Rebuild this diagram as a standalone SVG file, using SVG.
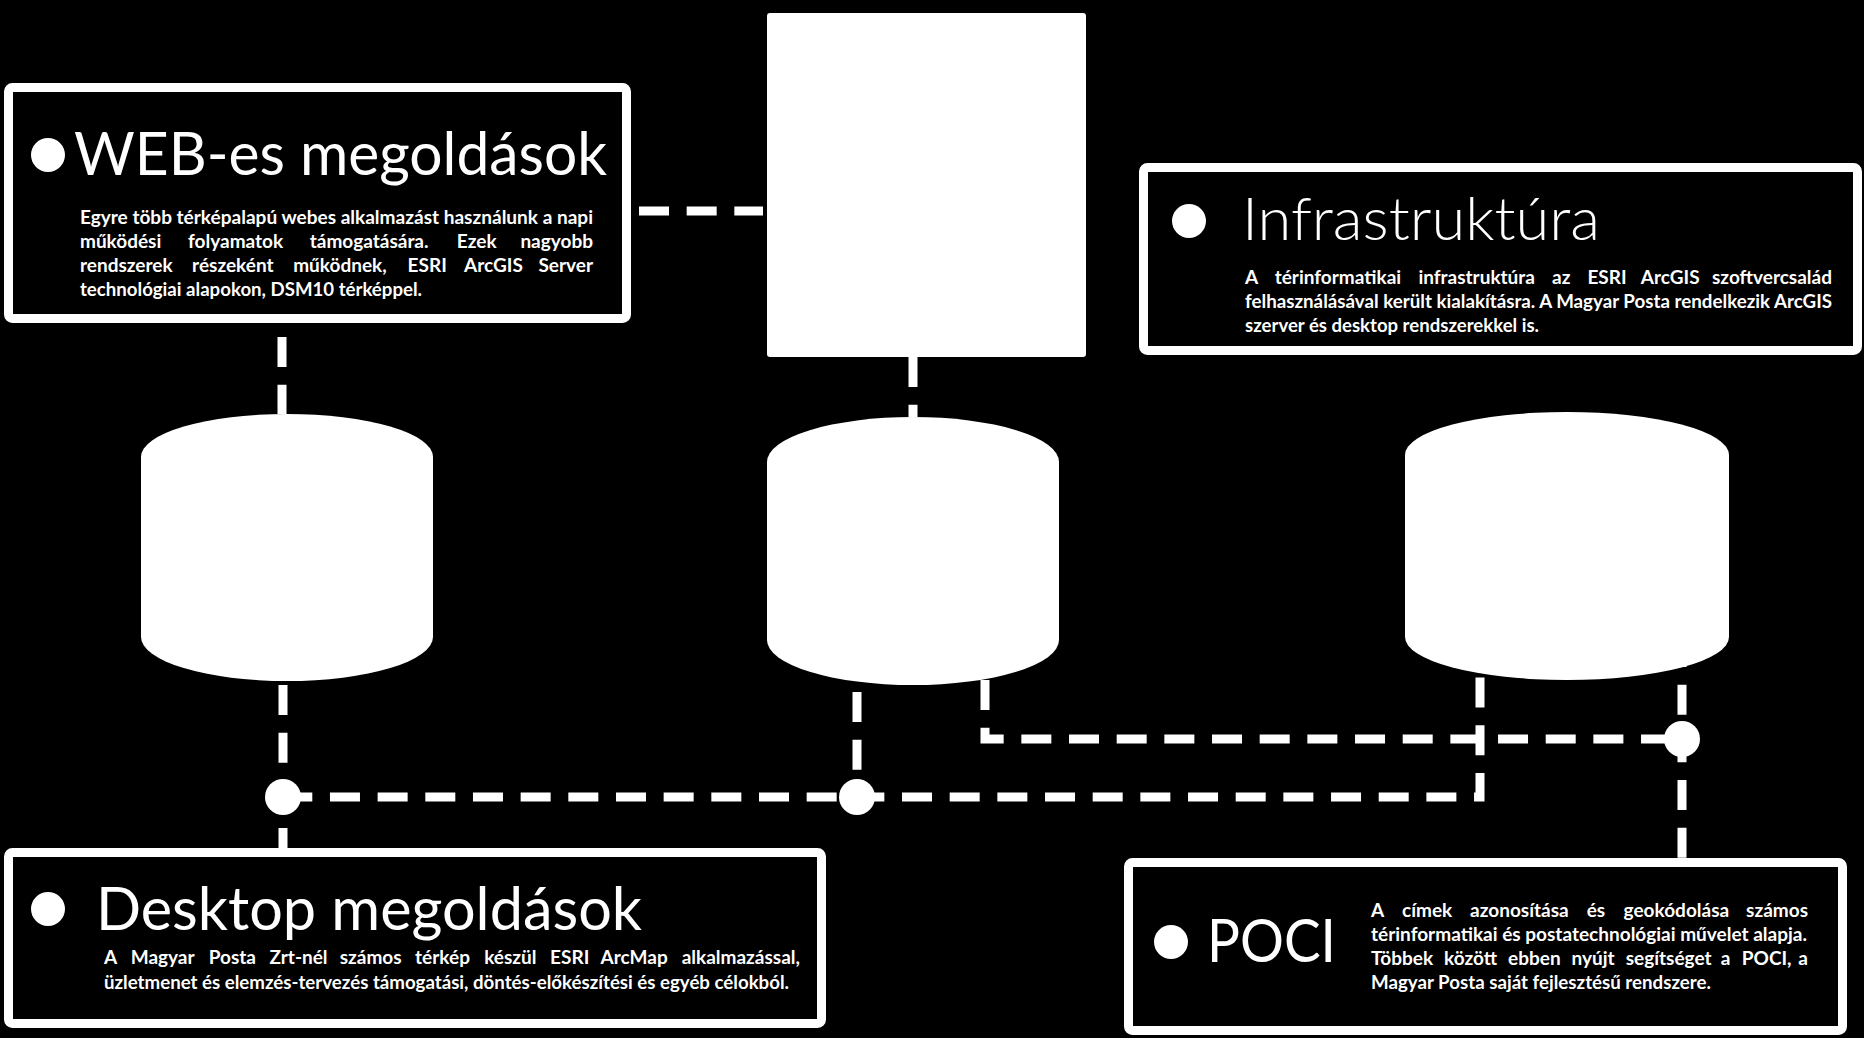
<svg xmlns="http://www.w3.org/2000/svg" width="1864" height="1038" viewBox="0 0 1864 1038">
<style>
.box{fill:#000;stroke:#fff;stroke-width:9}
.solid{fill:#fff}
.conn{fill:none;stroke:#fff;stroke-width:9;stroke-dasharray:30 17.67}
.dot{fill:#fff}
.title{font-family:Lato,"Open Sans","Liberation Sans",sans-serif;font-weight:400;font-size:60px;fill:#fff}
.light{font-weight:300}
.body{font-family:Lato,"Open Sans","Liberation Sans",sans-serif;font-weight:700;font-size:19px;fill:#fff}
.end{text-anchor:end}
</style>
<rect x="0" y="0" width="1864" height="1038" fill="#000"/>
<g id="connectors">
<path class="conn" d="M639,211 H763"/>
<path class="conn" d="M282,337 V414"/>
<path class="conn" d="M913,357 V417"/>
<path class="conn" d="M283,685 V848"/>
<path class="conn" d="M857,692 V797"/>
<path class="conn" d="M282.3,797 H1480 V673"/>
<path class="conn" d="M985,680 V739 H1682"/>
<path class="conn" d="M1682,637 V858"/>
<circle class="dot" cx="283" cy="797" r="18"/>
<circle class="dot" cx="857" cy="797" r="18"/>
<circle class="dot" cx="1682" cy="739" r="18"/>
</g>
<g id="server-rect">
<rect class="solid" x="767" y="13" width="319" height="344" rx="3"/>
</g>
<g id="db-left">
<path class="solid" d="M141,457 A146,43 0 0 1 433,457 V637 A146,44 0 0 1 141,637 Z"/>
</g>
<g id="db-middle">
<path class="solid" d="M767,462 A146,45 0 0 1 1059,462 V640 A146,45 0 0 1 767,640 Z"/>
</g>
<g id="db-right">
<path class="solid" d="M1405,455 A162,43 0 0 1 1729,455 V637 A162,43 0 0 1 1405,637 Z"/>
</g>
<g id="web">
<rect class="box" x="8.5" y="87.5" width="618" height="231" rx="4"/>
<circle class="dot" cx="48" cy="155" r="17"/>
<text class="title" x="74" y="175" textLength="533" lengthAdjust="spacingAndGlyphs">WEB-es megoldások</text>
<text class="body" x="80" y="224" textLength="513" lengthAdjust="spacingAndGlyphs">Egyre több térképalapú webes alkalmazást használunk a napi</text>
<text class="body" y="248"><tspan x="80">működési</tspan><tspan x="188">folyamatok</tspan><tspan x="309.7">támogatására.</tspan><tspan x="456.8">Ezek</tspan><tspan class="end" x="593">nagyobb</tspan></text>
<text class="body" y="272"><tspan x="80">rendszerek</tspan><tspan x="192.1">részeként</tspan><tspan x="293.2">működnek,</tspan><tspan x="407.6">ESRI</tspan><tspan x="464.1">ArcGIS</tspan><tspan class="end" x="593">Server</tspan></text>
<text class="body" x="80" y="296" textLength="342" lengthAdjust="spacingAndGlyphs">technológiai alapokon, DSM10 térképpel.</text>
</g>
<g id="infra">
<rect class="box" x="1143.5" y="167.5" width="714" height="183" rx="4"/>
<circle class="dot" cx="1189" cy="221" r="17"/>
<text class="title light" x="1242" y="240" textLength="358" lengthAdjust="spacingAndGlyphs">Infrastruktúra</text>
<text class="body" y="284"><tspan x="1245">A</tspan><tspan x="1274.7">térinformatikai</tspan><tspan x="1418.4">infrastruktúra</tspan><tspan x="1552">az</tspan><tspan x="1587.4">ESRI</tspan><tspan x="1640.8">ArcGIS</tspan><tspan class="end" x="1832">szoftvercsalád</tspan></text>
<text class="body" x="1245" y="308" textLength="587" lengthAdjust="spacingAndGlyphs">felhasználásával került kialakításra. A Magyar Posta rendelkezik ArcGIS</text>
<text class="body" x="1245" y="332" textLength="294" lengthAdjust="spacingAndGlyphs">szerver és desktop rendszerekkel is.</text>
</g>
<g id="desktop">
<rect class="box" x="8.5" y="852.5" width="813" height="171" rx="4"/>
<circle class="dot" cx="48" cy="909" r="17"/>
<text class="title" x="96" y="930" textLength="546" lengthAdjust="spacingAndGlyphs">Desktop megoldások</text>
<text class="body" y="964"><tspan x="104">A</tspan><tspan x="130.7">Magyar</tspan><tspan x="208.7">Posta</tspan><tspan x="269.5">Zrt-nél</tspan><tspan x="339.7">számos</tspan><tspan x="415.1">térkép</tspan><tspan x="484.2">készül</tspan><tspan x="550.1">ESRI</tspan><tspan x="600.5">ArcMap</tspan><tspan class="end" x="800">alkalmazással,</tspan></text>
<text class="body" x="104" y="989" textLength="685" lengthAdjust="spacingAndGlyphs">üzletmenet és elemzés-tervezés támogatási, döntés-előkészítési és egyéb célokból.</text>
</g>
<g id="poci">
<rect class="box" x="1128.5" y="862.5" width="714" height="168" rx="4"/>
<circle class="dot" cx="1171" cy="942" r="17"/>
<text class="title" x="1207" y="962" textLength="129" lengthAdjust="spacingAndGlyphs">POCI</text>
<text class="body" y="917"><tspan x="1371">A</tspan><tspan x="1402">címek</tspan><tspan x="1470.1">azonosítása</tspan><tspan x="1586.7">és</tspan><tspan x="1623.6">geokódolása</tspan><tspan class="end" x="1808">számos</tspan></text>
<text class="body" x="1371" y="941" textLength="436" lengthAdjust="spacingAndGlyphs">térinformatikai és postatechnológiai művelet alapja.</text>
<text class="body" y="965"><tspan x="1371">Többek</tspan><tspan x="1444">között</tspan><tspan x="1508.1">ebben</tspan><tspan x="1571.5">nyújt</tspan><tspan x="1625.7">segítséget</tspan><tspan x="1720.8">a</tspan><tspan x="1741.8">POCI,</tspan><tspan class="end" x="1808">a</tspan></text>
<text class="body" x="1371" y="989" textLength="340" lengthAdjust="spacingAndGlyphs">Magyar Posta saját fejlesztésű rendszere.</text>
</g>
</svg>
